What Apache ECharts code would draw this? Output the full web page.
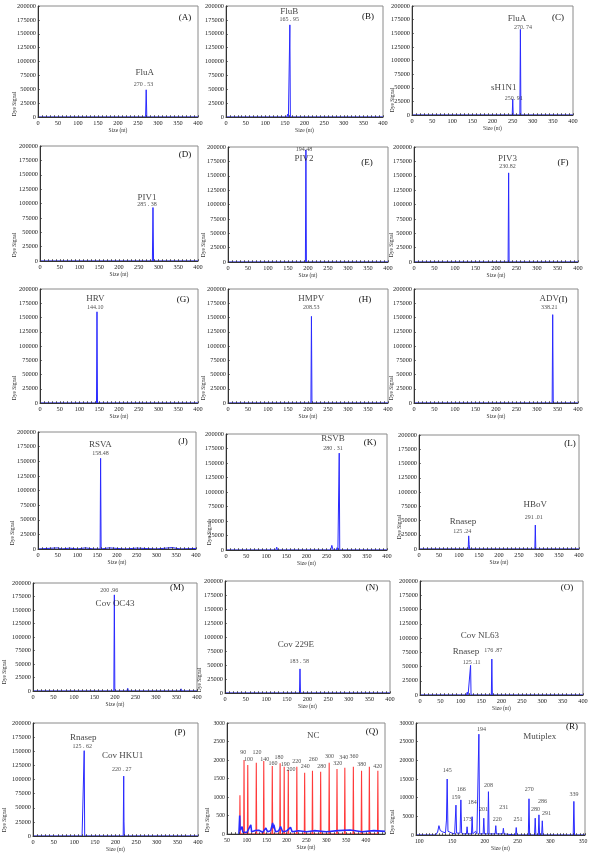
<!DOCTYPE html>
<html><head><meta charset="utf-8">
<script src="https://cdn.jsdelivr.net/npm/echarts@6/dist/echarts.min.js"></script>
<style>html,body{margin:0;padding:0;background:#fff}#c{width:600px;height:863px}</style>
</head><body><div id="c"></div><script>
// ---------------- DATA ----------------
const panelIds = ['A','B','C','D','E','F','G','H','I','J','K','L','M','N','O','P','Q','R'];
const yTicksBig = [0, 200000, 25000];
const yTicksQ = [0, 3000, 500];
const yTicksR = [0, 30000, 5000];
const xRangeStd = [0, 400, 10];
const xRangeQ = [50, 448, 10];
const xRangeR = [95, 353, 5];

const traceA = [[0,0],[206,0],[208,3000],[210,0],[269,0],[270.5,49000],[272,0],[400,0]];
const namesA = [[266.7,80000,'FluA']];
const valsA = [[264,58000,'270 . 53']];

const traceB = [[0,0],[155,0],[157,5000],[159,0],[161.5,0],[162.7,166000],[164,0],[166,3000],[168,0],[400,0]];
const namesB = [[161,190000,'FluB']];
const valsB = [[161,175000,'165 . 95']];

const traceC = [[0,0],[193,0],[195,2000],[197,0],[249,0],[250.3,29000],[251.5,0],[268,0],[269.3,157000],[270.6,0],[400,0]];
const namesC = [[261,177000,'FluA'],[228,51000,'sH1N1']];
const valsC = [[276,161000,'270. 74'],[252.6,30600,'250. 91']];

const traceD = [[0,0],[100,0],[102,1500],[104,0],[150,0],[152,1500],[154,0],[205,0],[207,1500],[209,0],[265,0],[267,3000],[269,0],[284.5,0],[286,93000],[287.5,0],[400,0]];
const namesD = [[271,110000,'PIV1']];
const valsD = [[271,98000,'285 . 38']];

const traceE = [[0,0],[193.5,0],[194.8,195000],[196,0],[400,0]];
const namesE = [[190,180000,'PIV2']];
const valsE = [[190,195000,'194.48']];

const traceF = [[0,0],[229.5,0],[230.8,155000],[232,0],[400,0]];
const namesF = [[228,180000,'PIV3']];
const valsF = [[228,166000,'230.82']];

const traceG = [[0,0],[143,0],[144.3,160000],[145.6,0],[400,0]];
const namesG = [[140,183000,'HRV']];
const valsG = [[140,168000,'144.10']];

const traceH = [[0,0],[207.3,0],[208.6,152000],[209.9,0],[400,0]];
const namesH = [[208,183000,'HMPV']];
const valsH = [[208,168000,'208.53']];

const traceI = [[0,0],[337,0],[338.3,155000],[339.6,0],[400,0]];
const namesI = [[330,183000,'ADV']];
const valsI = [[330,168000,'338.21']];

const traceJ = [[0,0],[50,2000],[60,0],[80,1500],[100,0],[120,2000],[140,0],[157.3,0],[158.5,155000],[159.8,0],[180,2000],[220,0],[250,1500],[300,0],[340,2500],[360,0],[400,1000]];
const namesJ = [[158,178000,'RSVA']];
const valsJ = [[158,163000,'158.48']];

const traceK = [[0,0],[124,0],[126,5000],[128,0],[143,0],[145,3000],[147,0],[240,0],[242,3000],[244,0],[260,0],[263,8000],[266,0],[274,0],[276,4000],[278,0],[280,0],[281.3,167000],[282.6,0],[400,0]];
const namesK = [[265.6,192000,'RSVB']];
const valsK = [[265.6,175300,'280 . 31']];

const traceL = [[0,0],[123,0],[124.2,23000],[125.4,8000],[126.5,0],[289.6,0],[290.8,42000],[292,0],[400,0]];
const namesL = [[110,48000,'Rnasep'],[290.8,77200,'HBoV']];
const valsL = [[108,30400,'125 .24'],[286.7,55600,'291 .01']];

const traceM = [[0,0],[197.2,0],[198.4,178000],[199.6,0],[229,0],[231,5000],[233,0],[359,0],[361,4000],[363,0],[400,0]];
const namesM = [[200,162000,'Cov OC43']];
const valsM = [[186,186900,'200 .96']];

const traceN = [[0,0],[180.6,0],[181.8,43000],[183,0],[212,0],[214,2000],[216,0],[362,0],[364,3000],[366,0],[400,0]];
const namesN = [[172,86600,'Cov 229E']];
const valsN = [[180,56700,'183 . 58']];

const traceO = [[0,0],[114,0],[116,5000],[118,0],[122.9,0],[124.1,52000],[125.3,0],[161,0],[163,2000],[165,0],[175.1,0],[176.3,63000],[177.5,0],[400,0]];
const namesO = [[147,103300,'Cov NL63'],[112.7,75800,'Rnasep']];
const valsO = [[126.5,57900,'125 .11'],[179.6,78800,'176 .87']];

const traceP = [[0,0],[119,0],[121,3000],[122.9,0],[124.1,151000],[125.3,0],[197,0],[199,2000],[201,0],[218.7,0],[219.9,106000],[220.6,25000],[221.5,0],[235,0],[237,3000],[239,0],[367,0],[369,2000],[371,0],[400,0]];
const namesP = [[121.7,174600,'Rnasep'],[217.4,142000,'Cov HKU1']];
const valsP = [[119.3,158600,'125 . 62'],[215,117200,'220 . 27']];

const traceQ = [[80,0],[82,500],[83,100],[86,60],[88,200],[90,50],[95,90],[100,40],[105,80],[110,250],[112,60],[120,90],[125,50],[130,100],[140,50],[148,160],[152,60],[160,90],[165,300],[167,150],[168,250],[172,60],[180,80],[185,200],[190,60],[200,80],[210,180],[214,60],[230,90],[250,60],[270,90],[300,60],[330,90],[360,110],[390,60],[420,90],[448,70]];
const ladderQ = [[82.6,1045],[92.9,2000],[102.3,1864],[123.8,1927],[142.6,1970],[164.1,1836],[183.8,1909],[194.1,1818],[204.4,1727],[225.9,1818],[245.6,1655],[265.3,1709],[285.9,1682],[307.4,1927],[327.1,1755],[346.8,1790],[368.3,1818],[388.9,1709],[408.6,1818],[430,1709]];
const namesQ = [[267,2654,'NC']];
const valsQ = [[91,2209,'90'],[104,2018,'100'],[125.5,2209,'120'],[145,2018,'140'],[165.8,1909,'160'],[181,2073,'180'],[196.7,1882,'190'],[211,1745,'200'],[226,1973,'220'],[247,1818,'240'],[267,2018,'260'],[288.5,1818,'280'],[308,2091,'300'],[329,1909,'320'],[344,2073,'340'],[370,2091,'360'],[389.7,1882,'380'],[430,1836,'420']];

const traceR = [[95,0],[125,0],[128,800],[130,2500],[132,1200],[134,1500],[136,800],[138,1000],[140,600],[141.5,4000],[142.6,15000],[143.8,1000],[146,600],[150,500],[154,300],[155.2,0],[156,8000],[157,500],[162.3,500],[163.5,9400],[164.7,500],[168,300],[170,800],[172,300],[173,2200],[174,300],[179.7,300],[180.7,4900],[181.7,300],[186,1000],[188,300],[190,300],[191,27000],[192.2,300],[197.5,300],[198.5,4500],[199.5,300],[204.6,300],[205.6,11600],[206.6,300],[215.8,300],[216.8,2500],[217.8,300],[227.4,300],[228.4,1800],[229.4,300],[247,0],[248,2000],[249,0],[266.5,0],[267.5,9700],[268.5,0],[276,0],[277,4500],[278,0],[281.7,0],[282.7,5400],[283.7,0],[286.8,0],[287.8,3800],[288.8,0],[335,0],[336,9000],[337,0],[353,0]];
const namesR = [[284,26400,'Mutiplex']];
const valsR = [[142.7,17300,'145'],[155.9,10100,'159'],[164,12300,'166'],[173.2,4200,'173'],[180.8,8700,'184'],[195,28200,'194'],[198,6900,'201'],[205.7,13200,'208'],[218.9,4200,'220'],[229,7300,'231'],[250.9,4200,'251'],[267.7,12300,'270'],[277.3,6900,'280'],[288,9100,'286'],[294.1,5800,'291'],[336.3,10900,'339']];

// ---------------- LAYOUT ----------------
const layout = {
 A:[38,6,198,117], B:[226,6,383,117], C:[412,6,573,115],
 D:[40,146,198,261], E:[228,147,388,262], F:[414,147,578,262],
 G:[40,289,198,403], H:[228,289,388,403], I:[414,289,578,403],
 J:[38,432,196,549], K:[226,434,387,550], L:[419,435,579,549],
 M:[33,583,197,691], N:[225,581,390,693], O:[420,581,583,695],
 P:[33,723,198,836], Q:[227,723,385,834], R:[416,723,585,835]
};
const letterPos = {
 A:[185,18], B:[368,17], C:[558,18], D:[185,155], E:[367,163], F:[563,163],
 G:[183,300], H:[365,300], I:[563,300], J:[183,442], K:[370,443], L:[570,444],
 M:[177,588], N:[372,588], O:[567,588], P:[180,733], Q:[372,732], R:[572,727]
};
const dyePos = {
 A:[15,104], C:[393,100], D:[15,245], E:[204,245], F:[392,245], G:[15,388], H:[204,388], I:[392,388],
 J:[13,533], K:[210,533], L:[400,527], M:[5,672], N:[200,680], P:[5,820], Q:[208,820], R:[393,822]
};

const dataMap = {
 A:[traceA,namesA,valsA], B:[traceB,namesB,valsB], C:[traceC,namesC,valsC], D:[traceD,namesD,valsD],
 E:[traceE,namesE,valsE], F:[traceF,namesF,valsF], G:[traceG,namesG,valsG], H:[traceH,namesH,valsH],
 I:[traceI,namesI,valsI], J:[traceJ,namesJ,valsJ], K:[traceK,namesK,valsK], L:[traceL,namesL,valsL],
 M:[traceM,namesM,valsM], N:[traceN,namesN,valsN], O:[traceO,namesO,valsO], P:[traceP,namesP,valsP],
 Q:[traceQ,namesQ,valsQ], R:[traceR,namesR,valsR]
};

const SERIF = 'Liberation Serif';
const BLUE = '#2a2aff';
const RED = '#ff3b3b';

const grids = [], xAxes = [], yAxes = [], series = [], graphics = [];
panelIds.forEach((id, i) => {
  const [l,t,r,b] = layout[id];
  grids.push({left:l, top:t, width:r-l, height:b-t, show:true, borderColor:'#8a8a8a', borderWidth:1, containLabel:false, outerBoundsMode:'none'});
  const xr = id==='Q' ? xRangeQ : id==='R' ? xRangeR : xRangeStd;
  const yr = id==='Q' ? yTicksQ : id==='R' ? yTicksR : yTicksBig;
  const small = (id==='Q'||id==='R');
  xAxes.push({type:'value', gridIndex:i, min:xr[0], max:xr[1], interval:xr[2], z:10,
    axisLine:{show:true, onZero:false, lineStyle:{color:'#333', width:1}},
    axisTick:{show:true, inside:true, length:1.8, lineStyle:{color:'#333', width:0.8}},
    axisLabel:{fontFamily:SERIF, fontSize: small?5.8:6.3, color:'#222', margin:3,
      formatter: v => (Math.round(v) % 50 === 0 ? String(Math.round(v)) : '')},
    splitLine:{show:false},
    name:'Size (nt)', nameLocation:'middle', nameGap:11,
    nameTextStyle:{fontFamily:SERIF, fontSize:5.5, color:'#333'}
  });
  yAxes.push({type:'value', gridIndex:i, min:yr[0], max:yr[1], interval:yr[2], z:10,
    axisLine:{show:true, onZero:false, lineStyle:{color:'#333', width:1}},
    axisTick:{show:true, inside:true, length:1.8, lineStyle:{color:'#333', width:0.8}},
    axisLabel:{fontFamily:SERIF, fontSize: small?5.8:6.3, color:'#222', margin:2,
      formatter: v => String(Math.round(v))},
    splitLine:{show:false}
  });
  const [trace, names, vals] = dataMap[id];
  series.push({type:'line', xAxisIndex:i, yAxisIndex:i, data:trace, showSymbol:false, symbol:'none',
    lineStyle:{color:BLUE, width: id==='Q'?1.6:1}, animation:false, z:3});
  if (id==='Q') {
    const redData = [];
    ladderQ.forEach(([x,h]) => { redData.push([x-0.9,0],[x,h],[x+0.9,0]); });
    series.push({type:'line', xAxisIndex:i, yAxisIndex:i, data:redData, showSymbol:false, symbol:'none',
      lineStyle:{color:RED, width:1.1}, animation:false, z:2});
  }
  series.push({type:'scatter', xAxisIndex:i, yAxisIndex:i, data:names, symbolSize:1,
    itemStyle:{color:'rgba(0,0,0,0)'}, silent:true, animation:false, z:5,
    label:{show:true, position:'inside', formatter:p=>p.value[2], fontFamily:SERIF, fontSize:9, color:'#111'}});
  series.push({type:'scatter', xAxisIndex:i, yAxisIndex:i, data:vals, symbolSize:1,
    itemStyle:{color:'rgba(0,0,0,0)'}, silent:true, animation:false, z:5,
    label:{show:true, position:'inside', formatter:p=>p.value[2], fontFamily:SERIF, fontSize:6, color:'#222'}});
  const lp = letterPos[id];
  graphics.push({type:'text', x:lp[0], y:lp[1], z:20,
    style:{text:'('+id+')', fontFamily:SERIF, fontSize:9, fill:'#111', textAlign:'center', textVerticalAlign:'middle'}});
  if (dyePos[id]) {
    const dp = dyePos[id];
    graphics.push({type:'text', x:dp[0], y:dp[1], rotation:Math.PI/2, z:20,
      style:{text:'Dye Signal', fontFamily:SERIF, fontSize:5.5, fill:'#333', textAlign:'center', textVerticalAlign:'middle'}});
  }
});

const chart = echarts.init(document.getElementById('c'), null, {renderer:'canvas'});
chart.setOption({
  animation:false, backgroundColor:'#fff',
  grid:grids, xAxis:xAxes, yAxis:yAxes, series:series, graphic:graphics
});
</script></body></html>
